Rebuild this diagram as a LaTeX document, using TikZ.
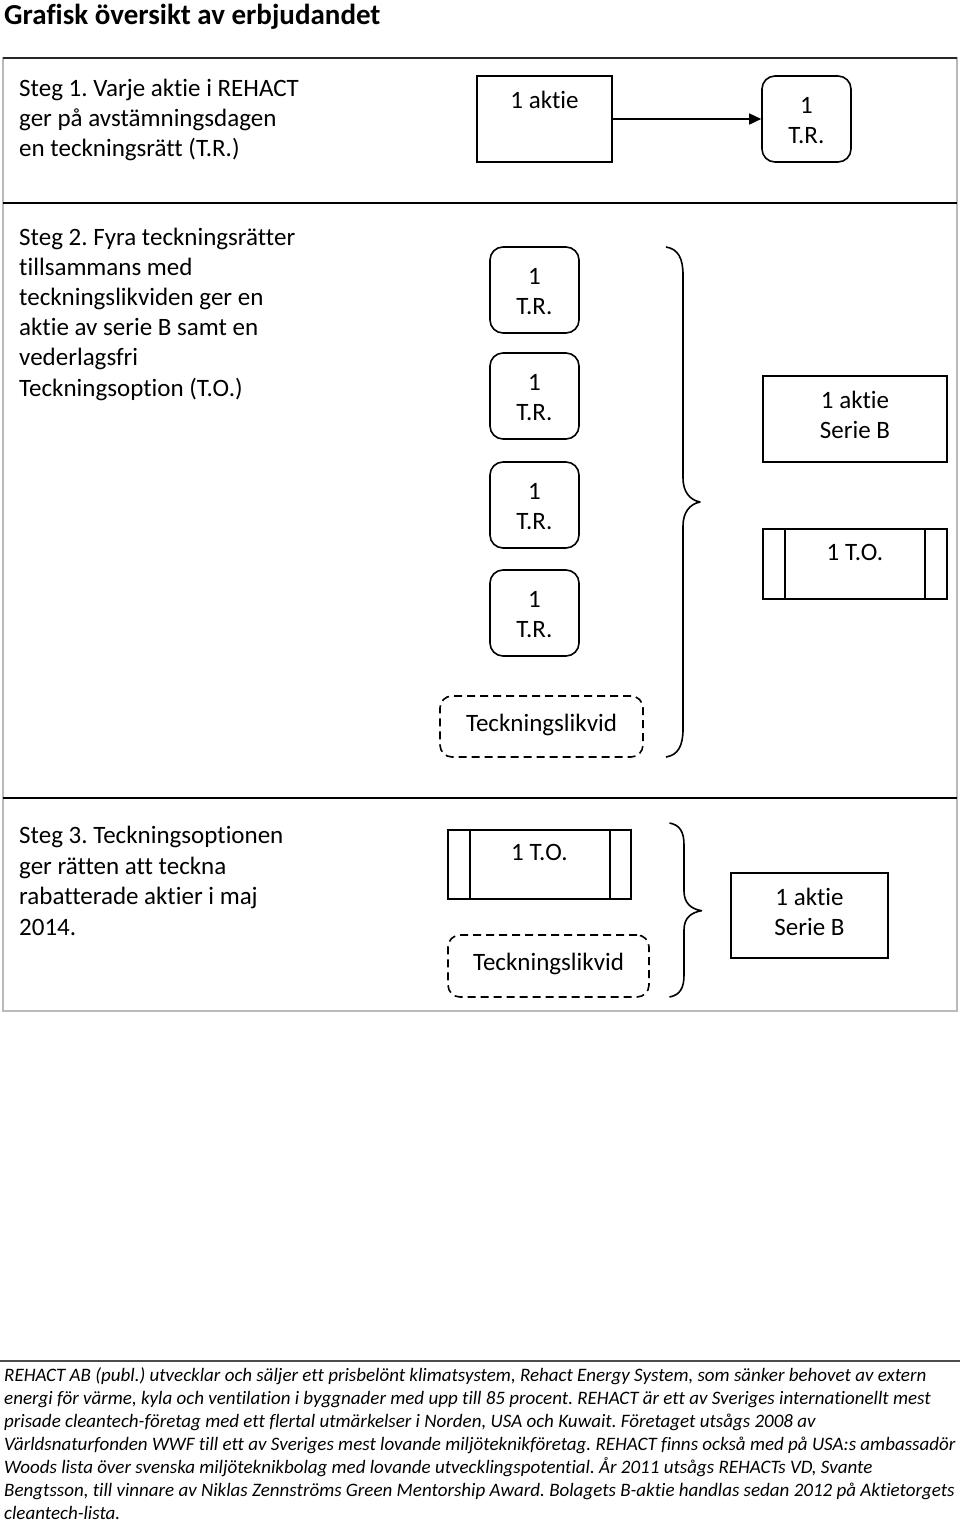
\documentclass[tikz,border=0pt]{standalone}
\usepackage{fontspec}
\setmainfont[Ligatures={NoCommon,NoRequired,NoContextual}]{Carlito}
\usetikzlibrary{arrows.meta}
\frenchspacing
\begin{document}
\begin{tikzpicture}[x=1pt,y=-1pt,
  txt/.style={font=\fontsize{25}{30}\selectfont, inner sep=0, anchor=base},
  ltxt/.style={txt, anchor=base west},
  foot/.style={font=\fontsize{19}{23}\selectfont\itshape, inner sep=0, anchor=base west},
  boxline/.style={draw=black, line width=1.6pt, inner sep=0},
  sq/.style={boxline, minimum width=#1},
  rbox/.style={boxline, rounded corners=13pt, minimum width=89pt, minimum height=86pt},
  dbox/.style={boxline, rounded corners=12pt, dash pattern=on 8pt off 5pt},
  brace/.style={line width=1.6pt, line join=round}
]
\useasboundingbox (0,0) rectangle (960,1521);
\fill[white] (0,0) rectangle (960,1521);

% title
\node[font=\fontsize{29}{34}\selectfont\bfseries, inner sep=0, anchor=base west] (title) at (4,24) {Grafisk översikt av erbjudandet};

% frame
\draw[gray!55, line width=1.5pt] (3,58) rectangle (957,1011);
\draw[black!85, line width=1.8pt] (3,58) -- (957,58);
\draw[black, line width=1.8pt] (3,203) -- (957,203);
\draw[black, line width=1.8pt] (3,798) -- (957,798);

% Step 1
\foreach \t [count=\i] in {Steg 1. Varje aktie i REHACT, ger på avstämningsdagen, en teckningsrätt (T.R.)}
  \node[ltxt] (sa\i) at (19,{96.7+30*(\i-1)}) {\t};
\node[sq=135pt, minimum height=86pt] (aktie1) at (544.5,119) {};
\node[txt] (aktie1t) at (544.5,108.3) {1 aktie};
\node[rbox] (tr0) at (806.5,119) {};
\node[txt] (tr0a) at (806.5,113.3) {1};
\node[txt] (tr0b) at (806.5,143.3) {T.R.};
\draw[line width=1.6pt, -{Triangle[length=12pt,width=11pt]}] (aktie1.east) -- (tr0.west);

% Step 2
\foreach \t [count=\i] in {Steg 2. Fyra teckningsrätter, tillsammans med, teckningslikviden ger en, aktie av serie B samt en, vederlagsfri, Teckningsoption (T.O.)}
  \node[ltxt] (sb\i) at (19,{245+30.2*(\i-1)}) {\t};
\foreach \top [count=\i] in {247,353,462,570} {
  \node[rbox] (tr\i) at (534.5,{\top+43}) {};
  \node[txt] (tr\i a) at (534.5,{\top+37}) {1};
  \node[txt] (tr\i b) at (534.5,{\top+67}) {T.R.};
}
\node[dbox, minimum width=203pt, minimum height=61pt] (lik1) at (541.5,726.5) {};
\node[txt] (lik1t) at (541.5,731) {Teckningslikvid};
\draw[brace] (666,247) .. controls (678,249) and (683,258) .. (683,275)
  -- (683,478) .. controls (683,492) and (690,500) .. (700,502)
  .. controls (690,504) and (683,512) .. (683,526)
  -- (683,729) .. controls (683,746) and (678,755) .. (666,757);
\node[sq=184pt, minimum height=86pt] (aktieB1) at (855,419) {};
\node[txt] (aktieB1a) at (855,408.3) {1 aktie};
\node[txt] (aktieB1b) at (855,438.7) {Serie B};
\node[sq=184pt, minimum height=70pt] (to1) at (855,564) {};
\draw[line width=1.6pt] ([xshift=23pt]to1.north west) -- ([xshift=23pt]to1.south west);
\draw[line width=1.6pt] ([xshift=-23pt]to1.north east) -- ([xshift=-23pt]to1.south east);
\node[txt] (to1t) at (855,560.7) {1 T.O.};

% Step 3
\foreach \t [count=\i] in {Steg 3. Teckningsoptionen, ger rätten att teckna, rabatterade aktier i maj, 2014.}
  \node[ltxt] (sc\i) at (19,{843.5+30.6*(\i-1)}) {\t};
\node[sq=183pt, minimum height=69pt] (to2) at (539.5,864.5) {};
\draw[line width=1.6pt] ([xshift=23pt]to2.north west) -- ([xshift=23pt]to2.south west);
\draw[line width=1.6pt] ([xshift=-22pt]to2.north east) -- ([xshift=-22pt]to2.south east);
\node[txt] (to2t) at (539.5,860.7) {1 T.O.};
\node[dbox, minimum width=201pt, minimum height=62pt] (lik2) at (548.5,966) {};
\node[txt] (lik2t) at (548.5,970.7) {Teckningslikvid};
\draw[brace] (669.5,823) .. controls (680,825) and (684,832) .. (684,845)
  -- (684,891) .. controls (684,903) and (691,909) .. (701.5,910.7)
  .. controls (691,912.5) and (684,918) .. (684,930)
  -- (684,975) .. controls (684,988) and (680,995) .. (669.5,997);
\node[sq=157pt, minimum height=85pt] (aktieB2) at (809.5,915.5) {};
\node[txt] (aktieB2a) at (809.5,905) {1 aktie};
\node[txt] (aktieB2b) at (809.5,935) {Serie B};

% footer
\draw[gray!60!black, line width=2pt] (0,1361) -- (960,1361);
\foreach \t [count=\i] in {
  {REHACT AB (publ.) utvecklar och säljer ett prisbelönt klimatsystem, Rehact Energy System, som sänker behovet av extern},
  {energi för värme, kyla och ventilation i byggnader med upp till 85 procent. REHACT är ett av Sveriges internationellt mest},
  {prisade cleantech-företag med ett flertal utmärkelser i Norden, USA och Kuwait. Företaget utsågs 2008 av},
  {Världsnaturfonden WWF till ett av Sveriges mest lovande miljöteknikföretag. REHACT finns också med på USA:s ambassadör},
  {Woods lista över svenska miljöteknikbolag med lovande utvecklingspotential. År 2011 utsågs REHACTs VD, Svante},
  {Bengtsson, till vinnare av Niklas Zennströms Green Mentorship Award. Bolagets B-aktie handlas sedan 2012 på Aktietorgets},
  {cleantech-lista.}}
  \node[foot] (f\i) at (4,{1381+23*(\i-1)}) {\t};
\end{tikzpicture}
\end{document}
